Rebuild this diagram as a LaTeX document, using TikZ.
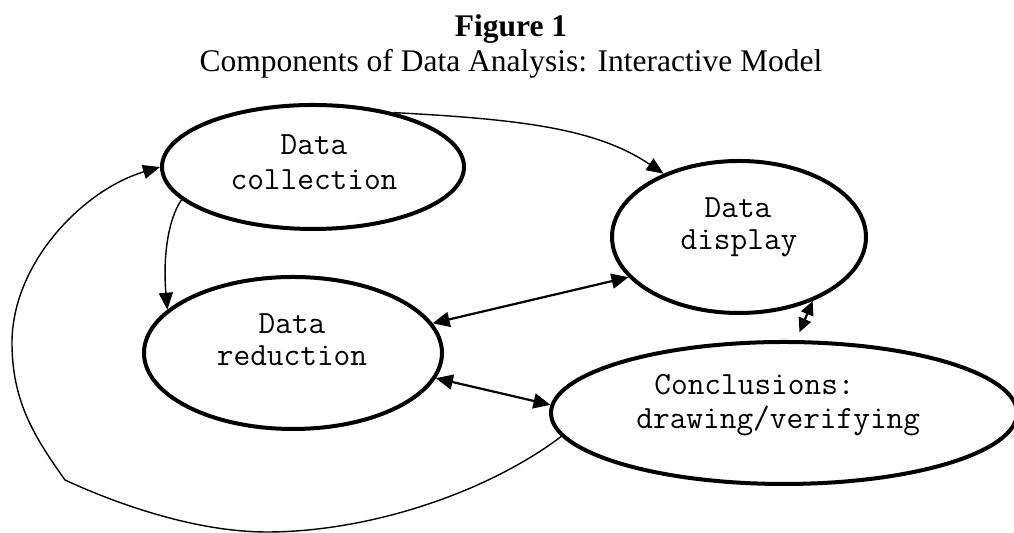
\documentclass[tikz,border=0pt]{standalone}
\usepackage{fontspec}
\setmainfont{Liberation Serif}
\usetikzlibrary{shapes.geometric,arrows.meta}
\tikzset{
  oval/.style={draw, ellipse, line width=2pt, inner sep=0pt},
  thinarrow/.style={line width=0.7pt, -{Triangle[length=8.5pt,width=7pt]}},
  dblarrow/.style={line width=1.1pt, {Triangle[length=8.5pt,width=7.5pt]}-{Triangle[length=8.5pt,width=7.5pt]}},
  dblsmall/.style={line width=1.1pt, {Triangle[length=7pt,width=6.5pt]}-{Triangle[length=7pt,width=6.5pt]}},
  lbl/.style={font=\ttfamily\fontsize{16.2pt}{19pt}\selectfont, anchor=base, inner sep=0pt},
  ttl/.style={font=\fontsize{15.75pt}{19pt}\selectfont, anchor=base, inner sep=0pt},
}
\begin{document}
\begin{tikzpicture}[x=0.5pt,y=0.5pt]
\useasboundingbox (0,0) rectangle (1014,533);
% title
\node[ttl, font=\bfseries\fontsize{15.75pt}{19pt}\selectfont] (title) at (511,496) {Figure 1};
\node[ttl] (subtitle) at (511,461) {Components of Data Analysis: Interactive Model};
% ellipses
\node[oval, minimum width=151pt, minimum height=62pt] (coll) at (313,366) {};
\node[oval, minimum width=127pt, minimum height=76pt] (disp) at (739,296) {};
\node[oval, minimum width=149pt, minimum height=76pt] (red)  at (293,180) {};
\node[oval, minimum width=233pt, minimum height=71pt] (conc) at (784,120) {};
% labels
\node[lbl] (collA) at (314,378) {Data};
\node[lbl] (collB) at (314,343) {collection};
\node[lbl] (dispA) at (738,315) {Data};
\node[lbl] (dispB) at (739,283) {display};
\node[lbl] (redA) at (292,199) {Data};
\node[lbl] (redB) at (292,167) {reduction};
\node[lbl, anchor=base west] (concA) at (654,138) {Conclusions:};
\node[lbl, anchor=base west] (concB) at (636,104) {drawing/verifying};
% connectors
\draw[thinarrow] (coll.34) .. controls +(-3:130) and +(146:80) .. (disp.140);
\draw[thinarrow] (coll.194) .. controls +(235:25) and +(95:50) .. (red.161);
\draw[dblarrow] (red.12) -- (disp.200);
\draw[dblarrow] (red.-10) -- (conc.178);
\draw[dblsmall] ([yshift=4pt]conc.78) -- (disp.-41);
\coordinate (bot) at (267,1);
\coordinate (kink) at (65,53);
\coordinate (lft) at (12,190);
\draw[thinarrow] (conc.186) .. controls (485,39) and (367,1) .. (bot)
  .. controls (197,1) and (119,28) .. (kink)
  .. controls (36,94) and (12,130) .. (lft)
  .. controls (12,270) and (83,343) .. (coll.180);
\end{tikzpicture}
\end{document}
